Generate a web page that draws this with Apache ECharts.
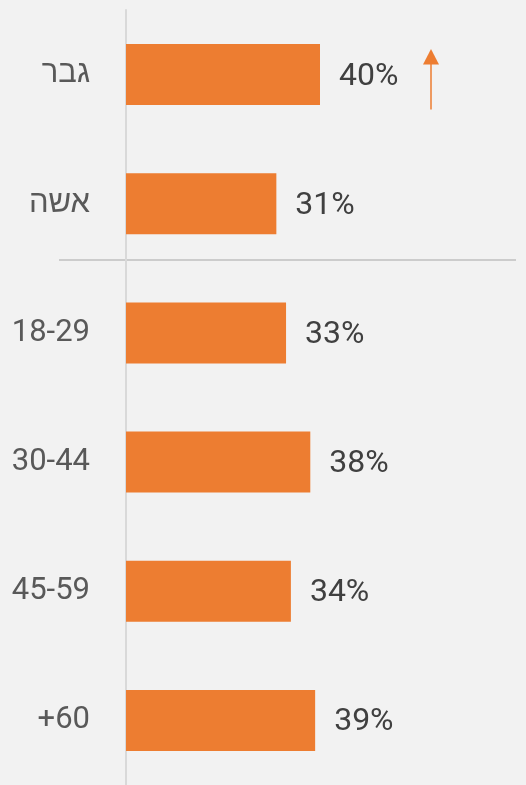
<!DOCTYPE html>
<html>
<head>
<meta charset="utf-8">
<style>
  html, body { margin: 0; padding: 0; background: #f2f2f2; }
  #chart { width: 526px; height: 785px; }
</style>
<script src="https://cdn.jsdelivr.net/npm/echarts@6/dist/echarts.min.js"></script>
</head>
<body>
<div id="chart"></div>
<script>
// Share by gender and age group
const categories = ['גבר', 'אשה', '18-29', '30-44', '45-59', '+60'];
const shares = [40, 31, 33, 38, 34, 39];

const FONT = 'Roboto, "Liberation Sans", "DejaVu Sans", sans-serif';
const ORANGE = '#ED7D31';

const chart = echarts.init(document.getElementById('chart'), null, { renderer: 'canvas' });

chart.setOption({
  backgroundColor: '#f2f2f2',
  animation: false,
  grid: { left: 126, top: 10, bottom: 0, right: 12, containLabel: false },
  xAxis: {
    type: 'value',
    min: 0,
    max: 80,
    show: false
  },
  yAxis: {
    type: 'category',
    data: categories,
    inverse: true,
    axisLine: { show: true, lineStyle: { color: '#d9d9d9', width: 2 } },
    axisTick: { show: false },
    splitLine: { show: false },
    axisLabel: {
      margin: 36,
      fontFamily: FONT,
      fontSize: 31,
      color: '#595959'
    }
  },
  series: [{
    type: 'bar',
    data: shares,
    barWidth: 61,
    itemStyle: { color: ORANGE },
    label: {
      show: true,
      position: 'right',
      distance: 19,
      offset: [0, 2],
      formatter: '{c}%',
      fontFamily: FONT,
      fontSize: 32,
      color: '#404040'
    }
  }]
});

// Divider between the gender rows and the age rows, plus the trend arrow beside the first row
const rowTop = chart.convertToPixel({ yAxisIndex: 0 }, 0);
chart.setOption({
  graphic: [
    {
      type: 'line',
      shape: { x1: 59, y1: 260, x2: 516, y2: 260 },
      style: { stroke: '#a6a6a6', lineWidth: 1 },
      silent: true
    },
    {
      type: 'line',
      shape: { x1: 431, y1: rowTop + 35, x2: 431, y2: rowTop - 12 },
      style: { stroke: ORANGE, lineWidth: 1.5 },
      silent: true
    },
    {
      type: 'polygon',
      shape: { points: [[431, rowTop - 25.5], [423, rowTop - 10], [439, rowTop - 10]] },
      style: { fill: ORANGE },
      silent: true
    }
  ]
});
</script>
</body>
</html>
